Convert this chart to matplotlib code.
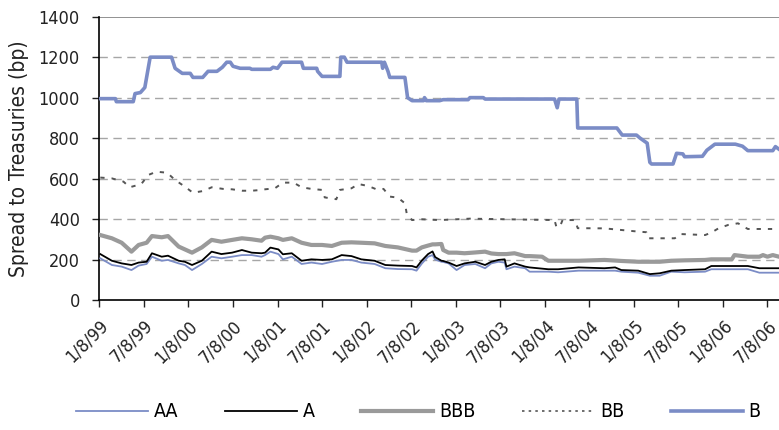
import numpy as np
import matplotlib
matplotlib.use('Agg')
import matplotlib.pyplot as plt
from matplotlib.lines import Line2D
from matplotlib import font_manager

# narrow face if one is installed, else Liberation Sans
condensed = [f.name for f in font_manager.fontManager.ttflist
             if f.stretch in ('condensed', 'semi-condensed', 'extra-condensed', 600, 500)]
if 'DejaVu Sans' in condensed:
    plt.rcParams['font.family'] = ['DejaVu Sans']
    plt.rcParams['font.stretch'] = 'condensed'
    fs = 13
else:
    plt.rcParams['font.family'] = ['Liberation Sans', 'DejaVu Sans']
    fs = 12

# decimal years (1999.0 = 1/8/99), spreads in bp
t_low = [1999.01, 1999.14, 1999.25, 1999.36, 1999.44, 1999.53, 1999.59, 1999.70, 1999.77, 1999.89,
         1999.96, 2000.04, 2000.15, 2000.26, 2000.37, 2000.49, 2000.60, 2000.71, 2000.82, 2000.86,
         2000.92, 2001.01, 2001.06, 2001.16, 2001.27, 2001.38, 2001.50, 2001.61, 2001.72, 2001.83,
         2001.94, 2002.09, 2002.21, 2002.35, 2002.51, 2002.56, 2002.62, 2002.69, 2002.74, 2002.77,
         2002.84, 2002.86, 2002.92, 2003.01, 2003.10, 2003.22, 2003.33, 2003.40, 2003.48, 2003.55,
         2003.57, 2003.66, 2003.78, 2003.83, 2003.97, 2004.04, 2004.15, 2004.38, 2004.67, 2004.79,
         2004.86, 2005.05, 2005.18, 2005.29, 2005.42, 2005.57, 2005.80, 2005.87, 2006.10, 2006.13,
         2006.28, 2006.41, 2006.45, 2006.50, 2006.56, 2006.63]
aa = [206, 173, 165, 148, 170, 178, 214, 194, 198, 181,
      173, 148, 178, 214, 206, 214, 222, 222, 214, 222,
      239, 227, 201, 214, 178, 185, 178, 189, 198, 198,
      185, 178, 157, 153, 152, 145, 180, 214, 222, 200,
      189, 188, 181, 148, 173, 178, 157, 181, 189, 185,
      152, 165, 157, 140, 140, 140, 137, 145, 145, 145,
      140, 135, 120, 120, 140, 137, 140, 152, 152, 152,
      152, 135, 135, 135, 135, 135]
a = [227, 194, 181, 173, 185, 189, 231, 214, 219, 194,
     189, 173, 194, 239, 227, 234, 247, 234, 231, 234,
     259, 250, 226, 231, 194, 201, 198, 201, 222, 217,
     201, 194, 173, 170, 168, 161, 195, 227, 240, 212,
     194, 193, 185, 168, 181, 189, 173, 189, 198, 201,
     165, 181, 165, 161, 155, 152, 152, 161, 157, 161,
     148, 145, 128, 132, 145, 148, 152, 168, 168, 168,
     168, 157, 157, 157, 157, 157]
bbb = [321, 305, 283, 239, 272, 283, 316, 310, 316, 264,
       250, 234, 260, 297, 288, 297, 305, 300, 293, 308,
       313, 305, 297, 305, 283, 272, 272, 267, 283, 285,
       283, 280, 267, 260, 244, 244, 260, 269, 275, 275,
       277, 247, 234, 234, 231, 235, 239, 230, 227, 227,
       227, 231, 217, 217, 214, 194, 194, 194, 198, 195,
       193, 189, 189, 189, 194, 196, 198, 201, 201, 222,
       214, 214, 222, 214, 222, 214]

t_bb = [1999.01, 1999.14, 1999.27, 1999.34, 1999.47, 1999.55, 1999.64, 1999.76, 1999.85, 1999.96,
        2000.05, 2000.17, 2000.26, 2000.39, 2000.49, 2000.60, 2000.71, 2000.82, 2000.86, 2000.97,
        2001.06, 2001.18, 2001.27, 2001.38, 2001.50, 2001.53, 2001.66, 2001.70, 2001.83, 2001.91,
        2002.02, 2002.11, 2002.19, 2002.26, 2002.35, 2002.43, 2002.45, 2002.51, 2002.62, 2002.82,
        2003.16, 2004.11, 2004.13, 2004.17, 2004.20, 2004.34, 2004.37, 2004.67, 2005.05, 2005.14,
        2005.16, 2005.46, 2005.52, 2005.80, 2005.87, 2005.95, 2006.06, 2006.17, 2006.28, 2006.63]
bb = [605, 601, 585, 557, 573, 618, 634, 629, 593, 560,
      530, 539, 557, 549, 547, 540, 540, 544, 547, 552,
      580, 580, 557, 549, 544, 507, 498, 544, 552, 573,
      563, 547, 549, 511, 506, 478, 428, 395, 399, 395,
      402, 395, 362, 362, 395, 395, 355, 354, 338, 335,
      305, 305, 326, 321, 333, 354, 371, 379, 351, 351]

t_b = [1999.01, 1999.18, 1999.19, 1999.38, 1999.40, 1999.46, 1999.51, 1999.57, 1999.81, 1999.85,
       1999.93, 2000.02, 2000.05, 2000.16, 2000.22, 2000.32, 2000.38, 2000.43, 2000.47, 2000.50,
       2000.58, 2000.69, 2000.71, 2000.92, 2000.95, 2001.00, 2001.05, 2001.27, 2001.29, 2001.44,
       2001.45, 2001.50, 2001.70, 2001.71, 2001.75, 2001.78, 2002.17, 2002.18, 2002.20, 2002.24,
       2002.26, 2002.43, 2002.46, 2002.51, 2002.64, 2002.65, 2002.67, 2002.82, 2002.86, 2003.14,
       2003.16, 2003.31, 2003.33, 2004.11, 2004.14, 2004.16, 2004.36, 2004.37, 2004.81, 2004.87,
       2005.03, 2005.07, 2005.15, 2005.18, 2005.20, 2005.44, 2005.48, 2005.55, 2005.57, 2005.77,
       2005.82, 2005.91, 2006.14, 2006.22, 2006.28, 2006.56, 2006.59, 2006.63]
b = [995, 995, 980, 980, 1020, 1025, 1050, 1200, 1200, 1145,
     1120, 1120, 1100, 1100, 1130, 1130, 1150, 1175, 1175, 1155,
     1145, 1145, 1140, 1140, 1150, 1145, 1175, 1175, 1145, 1145,
     1130, 1105, 1105, 1200, 1200, 1175, 1175, 1145, 1175, 1130,
     1100, 1100, 1000, 985, 985, 1000, 985, 985, 990, 990,
     1000, 1000, 993, 993, 950, 993, 993, 850, 850, 815,
     815, 800, 775, 680, 672, 672, 725, 722, 708, 710,
     740, 770, 770, 760, 738, 738, 758, 745]

tick_pos = [1999.0 + 0.5 * k for k in range(16)]
tick_lab = ['1/8/99', '7/8/99', '1/8/00', '7/8/00', '1/8/01', '7/8/01', '1/8/02', '7/8/02',
            '1/8/03', '7/8/03', '1/8/04', '7/8/04', '1/8/05', '7/8/05', '1/8/06', '7/8/06']

c_blue = '#7b8cc6'
c_gray = '#9a9a9a'
c_dark = '#555555'

fig = plt.figure(figsize=(7.79, 4.30), dpi=100)
ax = fig.add_axes([0.1276, 0.3023, 0.8724, 0.6589])

ax.plot(t_low, bbb, color=c_gray, lw=3.0, zorder=3)
ax.plot(t_bb, bb, color=c_dark, lw=1.4, dashes=(2.2, 3.6), zorder=3)
ax.plot(t_b, b, color=c_blue, lw=2.6, zorder=3)
ax.plot(t_low, aa, color=c_blue, lw=1.3, zorder=4)
ax.plot(t_low, a, color='black', lw=1.3, zorder=5)

ax.set_xlim(1999.0, 2006.63)
ax.set_ylim(0, 1400)
ax.set_yticks(range(0, 1401, 200))
ax.set_xticks(tick_pos)
ax.set_xticklabels(tick_lab, rotation=45, ha='right', va='top', rotation_mode='anchor')

for yv in range(200, 1401, 200):
    if yv == 1400:
        ax.axhline(yv, color='#7f7f7f', lw=1.2, zorder=1)
    else:
        ax.axhline(yv, color='#a6a6a6', lw=1.0, dashes=(6, 4), zorder=1)

for s in ['top', 'right']:
    ax.spines[s].set_visible(False)
ax.spines['left'].set_linewidth(1.2)
ax.spines['bottom'].set_linewidth(1.2)
ax.tick_params(axis='both', direction='out', length=5, width=1.0, labelsize=fs, colors='#222222')
ax.tick_params(axis='x', pad=7)
ax.tick_params(axis='y', pad=9)
ax.set_ylabel('Spread to Treasuries (bp)', fontsize=fs + 2, color='#222222', labelpad=7)

handles = [Line2D([], [], color=c_blue, lw=1.3),
           Line2D([], [], color='black', lw=1.3),
           Line2D([], [], color=c_gray, lw=3.0),
           Line2D([], [], color=c_dark, lw=1.2, dashes=(1.5, 2.5)),
           Line2D([], [], color=c_blue, lw=2.6)]
fig.legend(handles, ['AA', 'A', 'BBB', 'BB', 'B'], loc='center', ncol=5,
           bbox_to_anchor=(0.537, 0.042), frameon=False, fontsize=fs + 1,
           handlelength=3.7, handletextpad=0.3, columnspacing=2.4)

fig.savefig('out.png', dpi=100)
